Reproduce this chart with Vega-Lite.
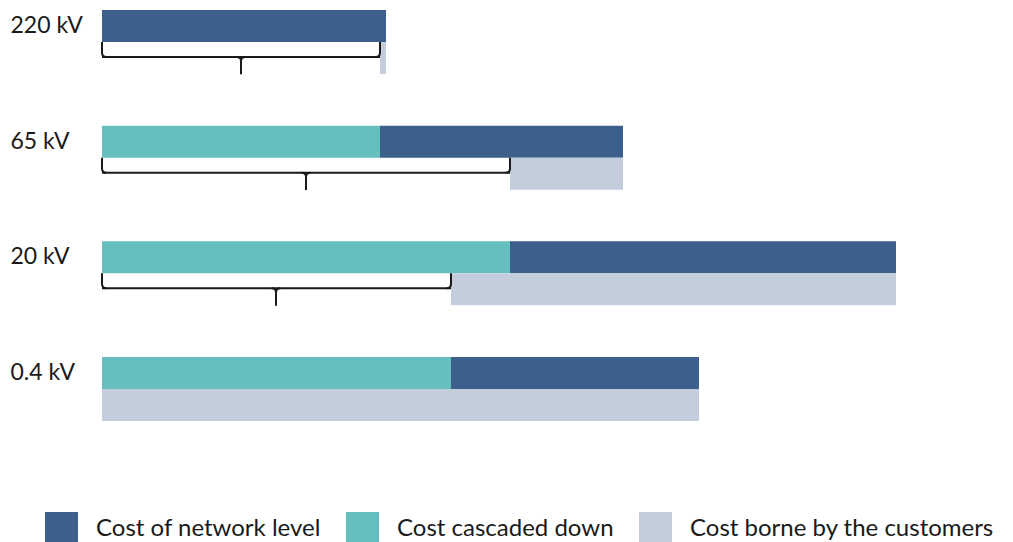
{
  "$schema": "https://vega.github.io/schema/vega-lite/v6.json",
  "autosize": "none",
  "padding": {"left": 102, "top": 10, "right": 11, "bottom": 121},
  "width": 900,
  "height": 411,
  "background": "white",
  "config": {"view": {"stroke": null}, "font": "Lato"},
  "datasets": {
    "bars": [
      {"level": "220 kV", "part": "top", "category": "Cost of network level", "start": 0, "end": 284},
      {"level": "220 kV", "part": "bottom", "category": "Cost borne by the customers", "start": 278, "end": 284},
      {"level": "65 kV", "part": "top", "category": "Cost cascaded down", "start": 0, "end": 278},
      {"level": "65 kV", "part": "top", "category": "Cost of network level", "start": 278, "end": 521},
      {"level": "65 kV", "part": "bottom", "category": "Cost borne by the customers", "start": 408, "end": 521},
      {"level": "20 kV", "part": "top", "category": "Cost cascaded down", "start": 0, "end": 408},
      {"level": "20 kV", "part": "top", "category": "Cost of network level", "start": 408, "end": 794},
      {"level": "20 kV", "part": "bottom", "category": "Cost borne by the customers", "start": 349, "end": 794},
      {"level": "0.4 kV", "part": "top", "category": "Cost cascaded down", "start": 0, "end": 349},
      {"level": "0.4 kV", "part": "top", "category": "Cost of network level", "start": 349, "end": 597},
      {"level": "0.4 kV", "part": "bottom", "category": "Cost borne by the customers", "start": 0, "end": 597}
    ],
    "braces": [
      {"level": "220 kV", "start": 0, "end": 278, "tip": 139},
      {"level": "65 kV", "start": 0, "end": 408, "tip": 204},
      {"level": "20 kV", "start": 0, "end": 349, "tip": 174}
    ]
  },
  "layer": [
    {
      "data": {"name": "bars"},
      "mark": {"type": "bar", "strokeWidth": 0},
      "encoding": {
        "y": {
          "field": "level", "type": "nominal",
          "sort": ["220 kV", "65 kV", "20 kV", "0.4 kV"],
          "scale": {"domain": ["220 kV", "65 kV", "20 kV", "0.4 kV"], "paddingInner": 0.4467, "paddingOuter": 0},
          "axis": {"title": null, "ticks": false, "domain": false, "labelAlign": "left", "labelPadding": 92, "labelOffset": -16, "labelFontSize": 23, "labelColor": "#1a1a1a", "labelFont": "Lato"}
        },
        "yOffset": {"field": "part", "type": "nominal", "scale": {"domain": ["top", "bottom"], "paddingInner": 0, "paddingOuter": 0}},
        "x": {"field": "start", "type": "quantitative", "scale": {"domain": [0, 900], "nice": false}, "axis": null},
        "x2": {"field": "end"},
        "color": {
          "field": "category", "type": "nominal",
          "scale": {"domain": ["Cost of network level", "Cost cascaded down", "Cost borne by the customers"], "range": ["#3d5f8b", "#64bfbe", "#c4cddc"]},
          "legend": {"title": null, "orient": "none", "legendX": -57, "legendY": 502, "direction": "horizontal", "symbolType": "square", "symbolSize": 1089, "symbolStrokeWidth": 0, "labelFontSize": 24, "labelFont": "Lato", "labelColor": "#1a1a1a", "labelOffset": 18, "columnPadding": 25, "labelLimit": 400}
        }
      }
    },
    {
      "data": {"name": "braces"},
      "mark": {"type": "rule", "strokeWidth": 2, "color": "#1a1a1a"},
      "encoding": {
        "y": {"field": "level", "type": "nominal", "bandPosition": 0.734},
        "x": {"field": "start", "type": "quantitative"},
        "x2": {"field": "end"}
      }
    },
    {
      "data": {"name": "braces"},
      "mark": {"type": "point", "shape": "M0.3,0 Q0,0 0,-0.3 L0,-1", "size": 900, "filled": false, "stroke": "#1a1a1a", "strokeWidth": 2, "opacity": 1},
      "encoding": {
        "y": {"field": "level", "type": "nominal", "bandPosition": 0.734},
        "x": {"field": "start", "type": "quantitative"}
      }
    },
    {
      "data": {"name": "braces"},
      "mark": {"type": "point", "shape": "M-0.3,0 Q0,0 0,-0.3 L0,-1", "size": 900, "filled": false, "stroke": "#1a1a1a", "strokeWidth": 2, "opacity": 1},
      "encoding": {
        "y": {"field": "level", "type": "nominal", "bandPosition": 0.734},
        "x": {"field": "end", "type": "quantitative"}
      }
    },
    {
      "data": {"name": "braces"},
      "mark": {"type": "point", "shape": "M-0.25,0 Q0,0 0,0.25 L0,1 M0.25,0 Q0,0 0,0.25", "size": 1200, "filled": false, "stroke": "#1a1a1a", "strokeWidth": 2, "opacity": 1},
      "encoding": {
        "y": {"field": "level", "type": "nominal", "bandPosition": 0.734},
        "x": {"field": "tip", "type": "quantitative"}
      }
    }
  ]
}
